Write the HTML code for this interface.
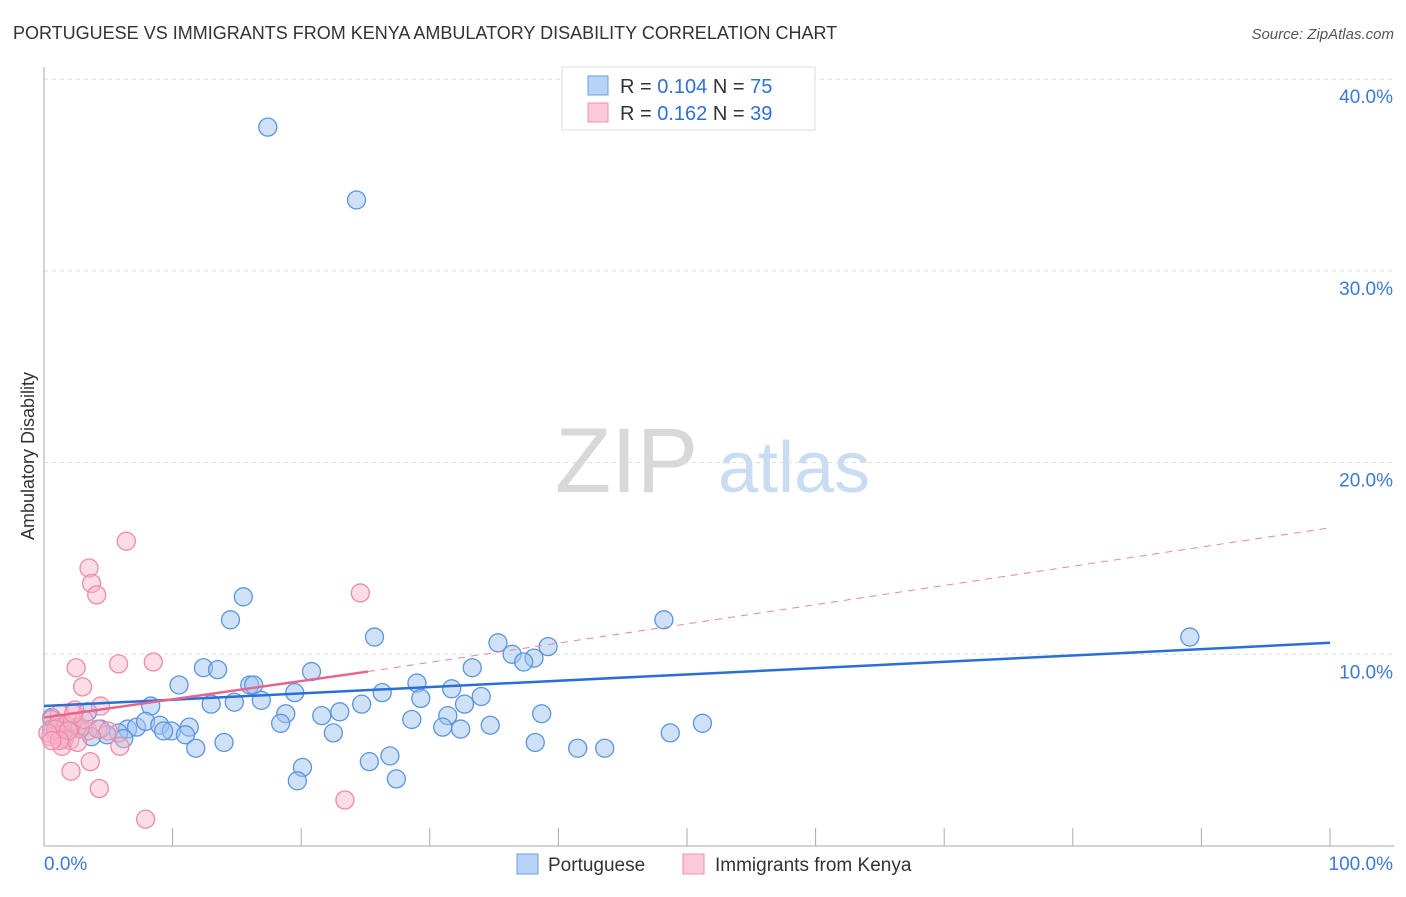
<!DOCTYPE html>
<html><head><meta charset="utf-8"><style>
html,body{margin:0;padding:0;background:#fff;}
svg text{font-family:"Liberation Sans",sans-serif;}
</style></head><body>
<svg id="chart" width="1406" height="892" xmlns="http://www.w3.org/2000/svg">
<text x="13" y="39" font-size="18" fill="#333">PORTUGUESE VS IMMIGRANTS FROM KENYA AMBULATORY DISABILITY CORRELATION CHART</text>
<text x="1394" y="39" font-size="15" fill="#555" font-style="italic" text-anchor="end">Source: ZipAtlas.com</text>
<text x="0" y="0" font-size="18" fill="#333" text-anchor="middle" transform="translate(34,456) rotate(-90)">Ambulatory Disability</text>
<text x="555" y="492" font-size="92" fill="#d8d8d8" font-family="Liberation Serif">ZIP</text>
<text x="718" y="492" font-size="72" fill="#c9dcf2">atlas</text>
<g id="grid"></g><g id="axes"></g><g id="pts"></g><g id="lines"></g>
<g>
<rect x="562" y="67" width="253" height="63" fill="#fff" stroke="#ddd"/>
<rect x="588" y="76" width="20" height="19" fill="#b8d3f5" stroke="#6a9fe0"/>
<rect x="588" y="103" width="20" height="19" fill="#fbc9d7" stroke="#ee8fae"/>
<text x="620" y="93" font-size="20" fill="#333">R = <tspan fill="#2f6fd6">0.104</tspan>   N = <tspan fill="#2f6fd6">75</tspan></text>
<text x="620" y="120" font-size="20" fill="#333">R =  <tspan fill="#2f6fd6">0.162</tspan>   N = <tspan fill="#2f6fd6">39</tspan></text>
</g>
<g>
<rect x="517" y="854" width="21" height="20" fill="#b8d3f5" stroke="#6a9fe0"/>
<text x="548" y="871" font-size="19" fill="#333">Portuguese</text>
<rect x="683" y="854" width="21" height="20" fill="#fbc9d7" stroke="#ee8fae"/>
<text x="715" y="871" font-size="19" fill="#333">Immigrants from Kenya</text>
</g>
</svg>
<script>
const yTicks=[10,20,30,40];
const yTickLabels=["10.0%","20.0%","30.0%","40.0%"];
const xTickLabels=["0.0%","100.0%"];
const blueX=[17.4,24.3,15.5,14.5,25.7,48.2,89.1,35.3,39.2,36.4,38.1,37.3,33.3,20.8,12.4,13.5,10.5,16.0,16.3,29.0,8.3,13.0,14.8,16.9,19.5,26.3,31.7,34.0,29.3,32.7,24.7,18.8,21.6,23.0,38.7,28.6,31.4,51.2,6.5,4.4,5.8,7.2,7.9,9.0,9.9,11.3,9.3,11.0,4.9,3.7,6.2,11.8,14.0,18.4,22.5,31.0,32.4,34.7,48.7,38.2,41.5,43.6,25.3,26.9,20.1,19.7,27.4,0.6,1.2,2.0,2.8,0.6,1.6,2.6,3.4];
const blueY=[37.5,33.7,13.0,11.8,10.9,11.8,10.9,10.6,10.4,10.0,9.8,9.6,9.3,9.1,9.3,9.2,8.4,8.4,8.4,8.5,7.3,7.4,7.5,7.6,8.0,8.0,8.2,7.8,7.7,7.4,7.4,6.9,6.8,7.0,6.9,6.6,6.8,6.4,6.1,6.1,5.9,6.2,6.5,6.3,6.0,6.2,6.0,5.8,5.8,5.7,5.6,5.1,5.4,6.4,5.9,6.2,6.1,6.3,5.9,5.4,5.1,5.1,4.4,4.7,4.1,3.4,3.5,6.7,6.2,6.2,6.1,6.1,5.8,6.2,7.0];
const pinkX=[6.4,3.5,3.7,4.1,24.6,2.5,5.8,8.5,3.0,4.4,2.4,1.2,0.6,1.1,1.7,2.2,2.8,3.4,0.9,1.6,0.5,2.0,1.4,2.6,4.2,5.0,5.9,3.6,2.1,4.3,7.9,23.4,0.9,0.3,1.9,3.1,1.2,0.6,2.3];
const pinkY=[15.9,14.5,13.7,13.1,13.2,9.3,9.5,9.6,8.3,7.3,7.1,6.9,6.6,6.4,6.3,6.5,6.2,6.0,5.8,5.6,5.7,5.5,5.2,5.4,6.1,6.0,5.2,4.4,3.9,3.0,1.4,2.4,6.1,5.9,6.0,6.6,5.5,5.5,6.9];
const blueTrend=[7.3,10.6];
const pinkTrend=[6.7,9.1,16.6];
const pinkSolidEnd=25.2;
const X0=44,X1=1330,Y0=846,PY=19.17;
const xs=v=>X0+(X1-X0)*v/100, ys=v=>Y0-PY*v;
const NS="http://www.w3.org/2000/svg";
function mk(tag,attrs,parent){const e=document.createElementNS(NS,tag);for(const k in attrs)e.setAttribute(k,attrs[k]);parent.appendChild(e);return e;}
const grid=document.getElementById('grid'),axes=document.getElementById('axes'),pts=document.getElementById('pts'),lines=document.getElementById('lines');
yTicks.forEach((t,i)=>{
 const l=mk('line',{x1:44,x2:1394,y1:ys(t),y2:ys(t),stroke:'#ddd','stroke-dasharray':'4,4'},grid);
 
 
 const tx=mk('text',{x:1393,y:ys(t)+24,'font-size':19,fill:'#3b78d8','text-anchor':'end'},axes);
 tx.textContent=yTickLabels[i];
 
 
});
const ya=mk('line',{x1:44,x2:44,y1:67,y2:846,stroke:'#aaa'},axes);


const xa=mk('line',{x1:44,x2:1394,y1:846,y2:846,stroke:'#aaa'},axes);


for(let i=1;i<=10;i++){
 const tk=mk('line',{x1:xs(i*10),x2:xs(i*10),y1:828,y2:846,stroke:'#aaa'},axes);
 
 
}
const xl0=mk('text',{x:44,y:870,'font-size':19,fill:'#3b78d8'},axes);xl0.textContent=xTickLabels[0];


const xl1=mk('text',{x:1393,y:870,'font-size':19,fill:'#3b78d8','text-anchor':'end'},axes);xl1.textContent=xTickLabels[1];


blueX.forEach((x,i)=>{
 const c=mk('circle',{cx:xs(x),cy:ys(blueY[i]),r:9,fill:'rgba(160,196,240,0.5)',stroke:'#5b95e0','stroke-width':1.3},pts);
 
 
});
pinkX.forEach((x,i)=>{
 const c=mk('circle',{cx:xs(x),cy:ys(pinkY[i]),r:9,fill:'rgba(248,180,200,0.45)',stroke:'#ef8aa9','stroke-width':1.3},pts);
 
 
});
const bl=mk('line',{x1:xs(0),y1:ys(blueTrend[0]),x2:xs(100),y2:ys(blueTrend[1]),stroke:'#2a6fd6','stroke-width':2.5},lines);


const pl=mk('line',{x1:xs(0),y1:ys(pinkTrend[0]),x2:xs(pinkSolidEnd),y2:ys(pinkTrend[1]),stroke:'#e8648c','stroke-width':2.5},lines);


const pd=mk('line',{x1:xs(pinkSolidEnd),y1:ys(pinkTrend[1]),x2:xs(100),y2:ys(pinkTrend[2]),stroke:'#e8869f','stroke-width':1,'stroke-dasharray':'7,6'},lines);


</script>
</body></html>
